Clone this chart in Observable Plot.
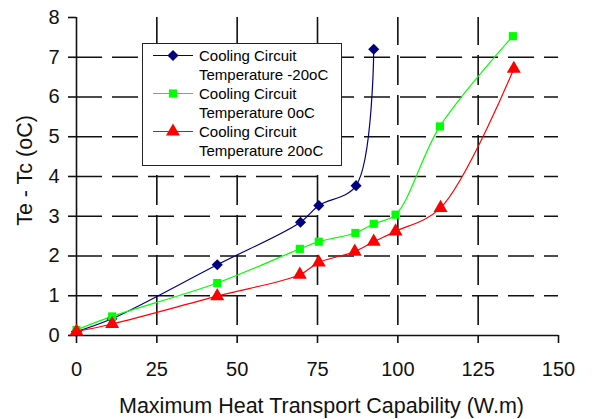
<!DOCTYPE html>
<html>
<head>
<meta charset="utf-8">
<script src="https://cdn.jsdelivr.net/npm/d3@7"></script>
<script src="https://cdn.jsdelivr.net/npm/@observablehq/plot@0.6"></script>
<style>
  html, body { margin: 0; padding: 0; background: #fff; }
  #wrap { position: relative; width: 602px; height: 419px; font-family: "Liberation Sans", Arial, sans-serif; }
  #legend { position: absolute; left: 142px; top: 43px; width: 198px; height: 121px; border: 1.5px solid #222; background: #fff; }
  .row { position: absolute; left: 0; height: 19px; }
  .row svg { position: absolute; left: 10px; top: 0; }
  .row .t { position: absolute; left: 56px; font-size: 15px; line-height: 19px; white-space: nowrap; color: #000; }
</style>
</head>
<body>
<div id="wrap"></div>
<script>
const xTicks = [0, 25, 50, 75, 100, 125, 150];
const yTicks = [0, 1, 2, 3, 4, 5, 6, 7, 8];
const xTitle = "Maximum Heat Transport Capability (W.m)";
const yTitle = "Te - Tc (oC)";
const seriesNames = ["Cooling Circuit Temperature -20oC", "Cooling Circuit Temperature 0oC", "Cooling Circuit Temperature 20oC"];
const legendLine1 = ["Cooling Circuit", "Cooling Circuit", "Cooling Circuit"];
const legendLine2 = ["Temperature -20oC", "Temperature 0oC", "Temperature 20oC"];
const seriesColors = ["#000080", "#00ff00", "#ff0000"];
const seriesSymbols = ["diamond2", "square", "triangle"];

const xBlue = [0, 11, 43.8, 69.7, 75.4, 87, 92.5];
const yBlue = [0.1, 0.42, 1.78, 2.85, 3.27, 3.77, 7.2];
const xGreen = [0, 11.1, 43.8, 69.5, 75.4, 86.8, 92.5, 99.3, 113.1, 135.8];
const yGreen = [0.14, 0.48, 1.32, 2.18, 2.36, 2.58, 2.81, 3.04, 5.26, 7.53];
const xRed = [0, 11.1, 43.8, 69.5, 75.4, 86.6, 92.5, 99.3, 113.3, 136.1];
const yRed = [0.1, 0.29, 0.99, 1.53, 1.84, 2.11, 2.36, 2.62, 3.21, 6.71];

const xsAll = [xBlue, xGreen, xRed];
const ysAll = [yBlue, yGreen, yRed];
const series = xsAll.map((xs, i) => xs.map((x, j) => ({x, y: ysAll[i][j], s: i})));
const symR = [5, 4.6, 5.2];

const marks = [
  Plot.gridX(xTicks.filter(d => d > 0 && d < 150), {stroke: "#111", strokeOpacity: 1, strokeWidth: 1.6, strokeDasharray: "30,10", strokeDashoffset: 30, y1: 0, y2: 8}),
  Plot.gridY(yTicks.filter(d => d > 0 && d < 8), {stroke: "#111", strokeOpacity: 1, strokeWidth: 1.6, strokeDasharray: "26,10"}),
  Plot.ruleX([0], {y1: 0, y2: 8, stroke: "#111", strokeWidth: 1.6}),
  Plot.ruleY([0], {x1: 0, x2: 150, stroke: "#111", strokeWidth: 1.6}),
  Plot.axisX(xTicks, {tickSize: 8, tickPadding: 18, fontSize: 20, stroke: "#111", strokeWidth: 1.6, label: null}),
  Plot.axisY(yTicks, {tickSize: 8, tickPadding: 9, fontSize: 20, stroke: "#111", strokeWidth: 1.6, label: null}),
  Plot.text([xTitle], {frameAnchor: "bottom", text: d => d, dx: 4, dy: 71, textAnchor: "middle", lineAnchor: "middle", fontSize: 21.5, fill: "#111"}),
  Plot.text([yTitle], {frameAnchor: "left", text: d => d, dx: -51, dy: -6, rotate: -90, textAnchor: "middle", lineAnchor: "middle", fontSize: 21.5, fill: "#111"})
];
series.forEach((data, i) => {
  marks.push(Plot.line(data, {x: "x", y: "y", stroke: seriesColors[i], strokeWidth: 1.2, curve: "catmull-rom"}));
  marks.push(Plot.dot(data, {x: "x", y: "y", symbol: () => seriesSymbols[i], fill: seriesColors[i], stroke: "none", r: symR[i]}));
});

const chart = Plot.plot({
  width: 602,
  height: 419,
  marginLeft: 76,
  marginRight: 44,
  marginTop: 17,
  marginBottom: 84,
  x: {domain: [0, 150]},
  y: {domain: [0, 8]},
  style: {fontFamily: "'Liberation Sans', Arial, sans-serif", fontSize: "20px", color: "#111", background: "#fff"},
  marks
});
const wrap = document.getElementById("wrap");
wrap.appendChild(chart);

const legend = document.createElement("div");
legend.id = "legend";
seriesNames.forEach((name, i) => {
  const row = document.createElement("div");
  row.className = "row";
  row.style.top = (2 + i * 38) + "px";
  const svg = d3.create("svg").attr("width", 42).attr("height", 19);
  svg.append("line").attr("x1", 0).attr("x2", 40).attr("y1", 9.5).attr("y2", 9.5).attr("stroke", seriesColors[i]).attr("stroke-width", 1.2);
  const sym = [d3.symbolDiamond2, d3.symbolSquare, d3.symbolTriangle][i];
  svg.append("path").attr("d", d3.symbol(sym, Math.PI * symR[i] * symR[i])()).attr("transform", "translate(20,9.5)").attr("fill", seriesColors[i]);
  row.appendChild(svg.node());
  const t1 = document.createElement("div");
  t1.className = "t"; t1.style.top = "0px"; t1.textContent = legendLine1[i];
  const t2 = document.createElement("div");
  t2.className = "t"; t2.style.top = "19px"; t2.textContent = legendLine2[i];
  row.appendChild(t1); row.appendChild(t2);
  legend.appendChild(row);
});
wrap.appendChild(legend);
</script>
</body>
</html>
